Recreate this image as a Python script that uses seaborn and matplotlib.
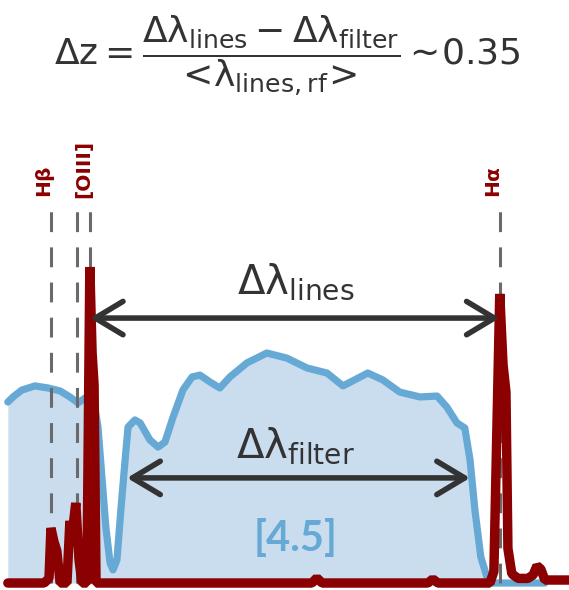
import matplotlib
matplotlib.use("Agg")
import matplotlib.pyplot as plt
import seaborn as sns
import pandas as pd
from matplotlib.patches import FancyArrowPatch

# --- DATA (observed wavelength in micron, relative transmission / flux) ---
filter_wave = [3.791, 3.807, 3.834, 3.874, 3.914, 3.951, 3.981, 4.006, 4.027, 4.052,
               4.067, 4.079, 4.091, 4.104, 4.113, 4.125, 4.137, 4.150, 4.159, 4.180,
               4.196, 4.226, 4.251, 4.272, 4.297, 4.327, 4.355, 4.379, 4.410, 4.440,
               4.471, 4.523, 4.584, 4.645, 4.707, 4.768, 4.817, 4.893, 4.939, 4.991,
               5.053, 5.105, 5.135, 5.166, 5.190, 5.206, 5.221, 5.239, 5.258, 5.273,
               5.435]
filter_trans = [0.787, 0.809, 0.839, 0.857, 0.848, 0.835, 0.809, 0.783, 0.804, 0.809,
                0.678, 0.461, 0.243, 0.087, 0.057, 0.100, 0.317, 0.535, 0.678, 0.709,
                0.696, 0.622, 0.591, 0.613, 0.722, 0.839, 0.896, 0.904, 0.874, 0.848,
                0.896, 0.957, 1.000, 0.978, 0.935, 0.913, 0.857, 0.913, 0.883, 0.830,
                0.809, 0.813, 0.765, 0.696, 0.674, 0.535, 0.317, 0.113, 0.026, 0.000,
                0.000]

spec_wave = [3.791, 3.902, 3.917, 3.923, 3.932, 3.941, 3.951, 3.972, 3.981, 3.987,
             3.999, 4.009, 4.018, 4.033, 4.042, 4.049, 4.055, 4.061, 4.722, 4.737,
             4.753, 5.077, 5.092, 5.108, 5.267, 5.279, 5.297, 5.307, 5.316, 5.322,
             5.334, 5.353, 5.383, 5.399, 5.411, 5.423, 5.435, 5.509]
spec_flux = [0.000, 0.000, 0.020, 0.239, 0.180, 0.140, 0.000, 0.000, 0.270, 0.200,
             0.348, 0.100, 0.000, 0.000, 1.374, 1.000, 0.861, 0.000, 0.000, 0.022,
             0.000, 0.000, 0.017, 0.000, 0.000, 0.050, 1.257, 0.950, 0.830, 0.150,
             0.040, 0.020, 0.020, 0.035, 0.075, 0.060, 0.013, 0.013]

line_names = [r"H$\mathbf{\beta}$", "[OIII]", r"H$\mathbf{\alpha}$"]
line_wave = [3.923, 4.002, 4.042, 5.297]   # Hb, [OIII]4959, [OIII]5007, Ha

RED = "#8b0000"
BLUE = "#67a9d5"
FILL = "#c9ddef"
DARK = "#333333"

sns.set_theme(style="white")
plt.rcParams["font.family"] = ["DejaVu Sans"]
plt.rcParams["mathtext.fontset"] = "custom"
plt.rcParams["mathtext.rm"] = "DejaVu Sans"
plt.rcParams["mathtext.it"] = "DejaVu Sans"
plt.rcParams["mathtext.bf"] = "DejaVu Sans:bold"

fig = plt.figure(figsize=(5.69, 5.90), dpi=100)
ax = fig.add_axes([0, 0, 1, 1])
ax.set_xlim(3.767, 5.509)
ax.set_ylim(-0.0304, 2.535)
ax.axis("off")

filt = pd.DataFrame({"wave": filter_wave, "trans": filter_trans})
spec = pd.DataFrame({"wave": spec_wave, "flux": spec_flux})

# filter curve
ax.fill_between(filt["wave"], 0, filt["trans"], color=FILL, lw=0, zorder=1)
sns.lineplot(data=filt, x="wave", y="trans", sort=False, estimator=None,
             color=BLUE, lw=5.2, ax=ax, zorder=2)

# dashed line markers
for w in line_wave:
    ax.plot([w, w], [0, 1.635], color="#6a6a6a", lw=2.2, dashes=(6.5, 5), zorder=3)

# line labels
lab = dict(rotation=90, rotation_mode="anchor", color=RED, fontsize=14.5,
           fontweight="bold")
ax.text(line_wave[0], 1.674, line_names[0], ha="left", va="baseline", **lab)
ax.text((line_wave[1] + line_wave[2]) / 2, 1.674, line_names[1], ha="left",
        va="center", **lab)
ax.text(line_wave[3], 1.674, line_names[2], ha="left", va="baseline", **lab)

# spectrum
sns.lineplot(data=spec, x="wave", y="flux", sort=False, estimator=None,
             color=RED, lw=6.8, ax=ax, zorder=4)
ax.lines[-1].set_solid_joinstyle("bevel")

# arrows
for x0, x1, y in [(line_wave[2], line_wave[3], 1.152), (4.156, 5.206, 0.457)]:
    arr = FancyArrowPatch((x0, y), (x1, y), arrowstyle="<->,head_length=1.0,head_width=0.6",
                          mutation_scale=20, color=DARK, lw=4, shrinkA=0, shrinkB=0,
                          zorder=5)
    ax.add_patch(arr)

ax.text(4.673, 1.261, r"$\Delta\lambda_{\mathrm{lines}}$", ha="center", va="baseline",
        fontsize=29, color=DARK, zorder=6)
ax.text(4.673, 0.548, r"$\Delta\lambda_{\mathrm{filter}}$", ha="center", va="baseline",
        fontsize=29, color=DARK, zorder=6)
ax.text(4.673, 0.14, "[4.5]", ha="center", va="baseline", fontsize=30,
        fontweight="bold", color=BLUE, family=["Lato", "DejaVu Sans"], zorder=6)

fig.text(0.505, 0.905,
         r"$\Delta\mathrm{z} = \dfrac{\Delta\lambda_{\mathrm{lines}} - \Delta\lambda_{\mathrm{filter}}}"
         r"{<\!\lambda_{\mathrm{lines,rf}}\!>} \sim\! 0.35$",
         ha="center", va="center", fontsize=26, color=DARK)

fig.savefig("out.png", dpi=100)
